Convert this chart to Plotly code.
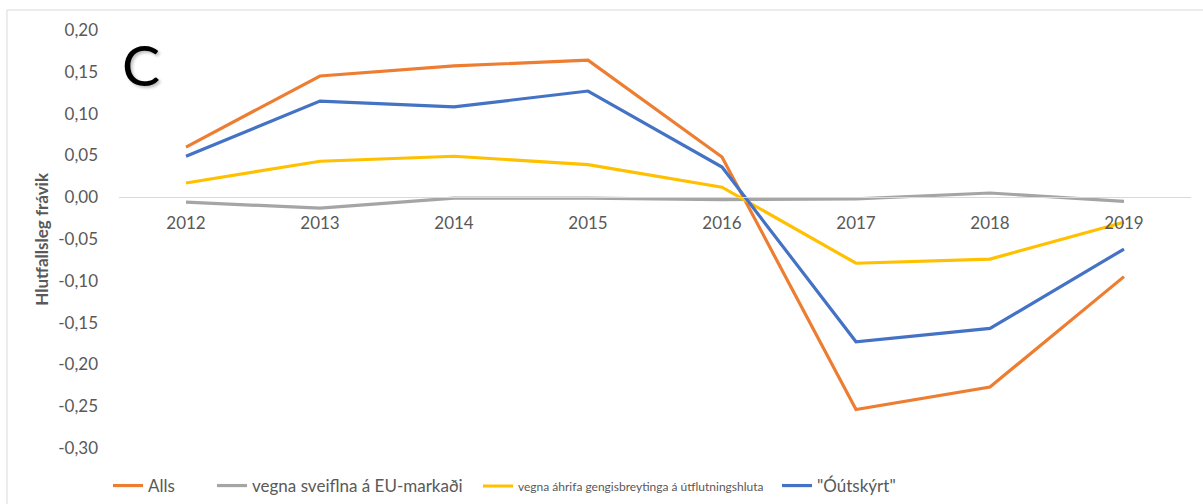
import plotly.graph_objects as go

years = ["2012", "2013", "2014", "2015", "2016", "2017", "2018", "2019"]
alls = [0.060, 0.145, 0.157, 0.164, 0.048, -0.254, -0.227, -0.095]
eu_markadi = [-0.006, -0.013, -0.001, -0.001, -0.003, -0.002, 0.005, -0.005]
gengi = [0.017, 0.043, 0.049, 0.039, 0.012, -0.079, -0.074, -0.030]
outskyrt = [0.049, 0.115, 0.108, 0.127, 0.036, -0.173, -0.157, -0.062]

series_names = ["Alls", "vegna sveiflna á EU-markaði",
                "vegna áhrifa gengisbreytinga á útflutningshluta", "\"Óútskýrt\""]
series_colors = ["#ED7D31", "#A5A5A5", "#FFC000", "#4472C4"]

y_tickvals = [0.20, 0.15, 0.10, 0.05, 0.00, -0.05, -0.10, -0.15, -0.20, -0.25, -0.30]
y_ticktext = ["0,20", "0,15", "0,10", "0,05", "0,00", "-0,05", "-0,10", "-0,15",
              "-0,20", "-0,25", "-0,30"]

y_title = "Hlutfallsleg frávik"
panel_label = "C"

FONT = "Lato, 'Open Sans', sans-serif"
TXT = "#595959"
W, H = 1203, 504

fig = go.Figure()
legend_ids = ["legend", "legend2", "legend3", "legend4"]
for vals, name, col, lg in zip([alls, eu_markadi, gengi, outskyrt], series_names,
                               series_colors, legend_ids):
    fig.add_trace(go.Scatter(x=years, y=vals, name=name, mode="lines",
                             line=dict(color=col, width=3.2), legend=lg,
                             hoverinfo="x+y+name"))

# legend item left edges in pixels (container coordinates)
leg_px = [108, 212, 478, 777]
leg_sizes = [17, 17, 12, 17]
legends = {}
for lg, lx, fs in zip(legend_ids, leg_px, leg_sizes):
    legends[lg] = dict(orientation="h", xref="container", yref="container",
                       x=lx / W, y=1 - 486 / H, xanchor="left", yanchor="middle",
                       bgcolor="rgba(0,0,0,0)", borderwidth=0, itemwidth=30,
                       font=dict(family=FONT, size=fs, color=TXT))

fig.update_layout(
    width=W, height=H,
    margin=dict(l=119, r=12, t=30, b=56, autoexpand=False),
    paper_bgcolor="white", plot_bgcolor="white",
    showlegend=True,
    font=dict(family=FONT, size=17, color=TXT),
    xaxis=dict(type="category", range=[-0.5, 7.5], anchor="free", position=0.6,
               showline=True, linecolor="#D9D9D9", linewidth=1, showgrid=False,
               zeroline=False, ticks="", ticklabelstandoff=10,
               tickfont=dict(family=FONT, size=17, color=TXT), fixedrange=True),
    yaxis=dict(range=[-0.30, 0.20], tickvals=y_tickvals, ticktext=y_ticktext,
               showgrid=False, zeroline=False, showline=False, ticks="",
               ticklabelstandoff=20,
               tickfont=dict(family=FONT, size=17, color=TXT), fixedrange=True),
    **legends,
)

# chart border
fig.add_shape(type="rect", xref="paper", yref="paper", x0=-0.1045, x1=1.02,
              y0=-0.2, y1=1.0479, line=dict(color="#D9D9D9", width=1), layer="below")

# y-axis title
fig.add_annotation(xref="paper", yref="paper", x=-0.0718, y=0.5006, text=y_title,
                   textangle=-90, showarrow=False, xanchor="center", yanchor="middle",
                   font=dict(family=FONT, size=17, color=TXT, weight="bold"))
# panel label
fig.add_annotation(xref="paper", yref="paper", x=0.0205, y=0.9186, text=panel_label,
                   showarrow=False, xanchor="center", yanchor="middle",
                   font=dict(family=FONT, size=57, color="black",
                             shadow="2px 2px 3px rgba(0,0,0,0.25)"))

fig.write_html("out.html", config={"displayModeBar": False},
               post_script="document.body.style.margin='0px';")
